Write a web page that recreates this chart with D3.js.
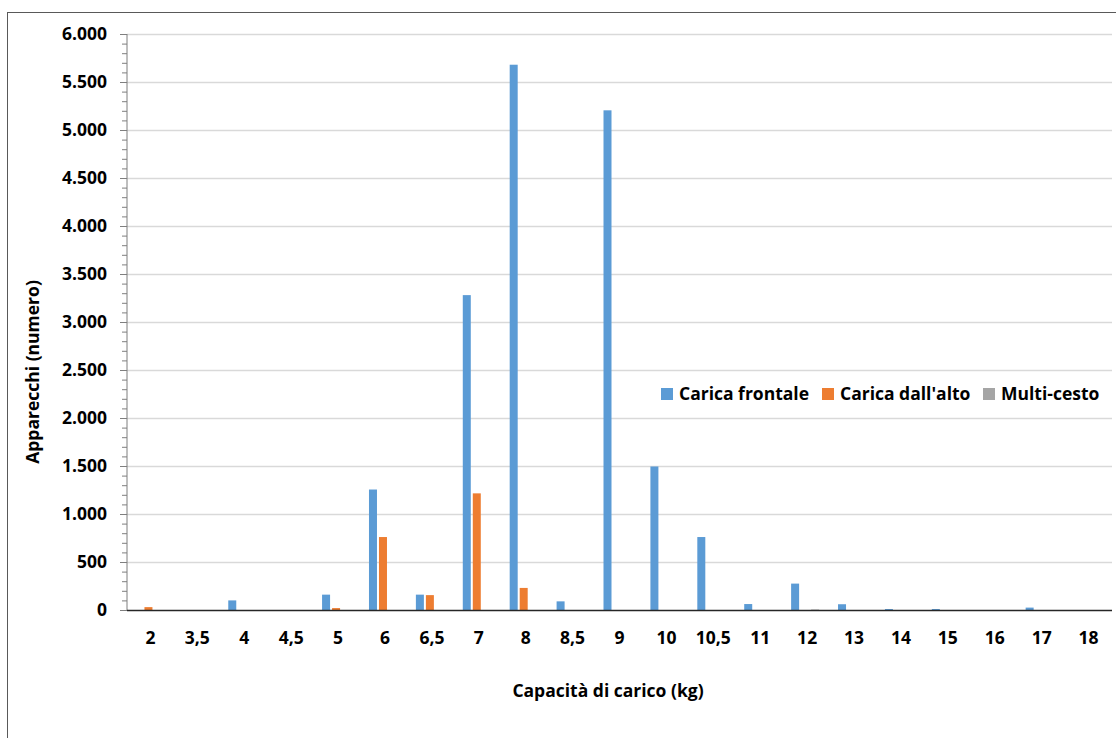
<!DOCTYPE html>
<html>
<head>
<meta charset="utf-8">
<script src="https://cdn.jsdelivr.net/npm/d3@7"></script>
<style>
  html, body { margin: 0; padding: 0; background: #fff; }
  svg { display: block; font-family: "Open Sans", "Noto Sans", sans-serif; font-weight: 700; }
</style>
</head>
<body>
<svg id="chart" width="1116" height="738"></svg>
<script>
// Capacità di carico (kg)
const categories = ["2", "3,5", "4", "4,5", "5", "6", "6,5", "7", "8", "8,5", "9", "10", "10,5", "11", "12", "13", "14", "15", "16", "17", "18"];

// Apparecchi per tipologia di carica
const caricaFrontale = [0, 0, 100, 0, 160, 1255, 160, 3280, 5680, 90, 5205, 1495, 760, 62, 275, 60, 10, 10, 0, 25, 0];
const caricaDallAlto = [30, 0, 0, 0, 20, 760, 155, 1215, 230, 0, 0, 0, 0, 0, 0, 0, 0, 0, 0, 0, 0];
const multiCesto     = [0, 0, 0, 0, 0, 0, 0, 0, 0, 0, 0, 0, 0, 0, 5, 0, 0, 0, 0, 0, 0];

const seriesNames = ["Carica frontale", "Carica dall'alto", "Multi-cesto"];
const seriesValues = [caricaFrontale, caricaDallAlto, multiCesto];
const seriesColors = ["#5B9BD5", "#ED7D31", "#A5A5A5"];

const yTicks = [0, 500, 1000, 1500, 2000, 2500, 3000, 3500, 4000, 4500, 5000, 5500, 6000];

const svg = d3.select("#chart");
const W = 1116, H = 738;
const plot = { left: 127, right: 1112, top: 34, bottom: 610 };
const FONT = "'Open Sans', 'Noto Sans', sans-serif";
const FS = 17.5;

// chart frame (continues past the right and bottom edges)
svg.append("rect")
  .attr("x", 7.5).attr("y", 12.5)
  .attr("width", W + 20).attr("height", H + 20)
  .attr("fill", "none").attr("stroke", "#595959").attr("stroke-width", 1);

const x = d3.scaleBand().domain(categories).range([plot.left, plot.right]).paddingInner(0).paddingOuter(0);
const groupWidth = 28;
const xs = d3.scaleBand().domain(seriesNames)
  .range([(x.bandwidth() - groupWidth) / 2 - 2, (x.bandwidth() + groupWidth) / 2 - 2])
  .paddingInner(0.2).paddingOuter(0);
const y = d3.scaleLinear().domain([0, 6000]).range([plot.bottom, plot.top]);

const fmt = v => d3.format(",")(v).replace(/,/g, ".");

// horizontal gridlines
svg.append("g")
  .selectAll("line")
  .data(yTicks.filter(t => t > 0))
  .join("line")
  .attr("x1", plot.left).attr("x2", plot.right)
  .attr("y1", d => Math.round(y(d)) + 0.5).attr("y2", d => Math.round(y(d)) + 0.5)
  .attr("stroke", "#D9D9D9").attr("stroke-width", 1.3);

// bars
const groups = svg.append("g")
  .selectAll("g")
  .data(categories)
  .join("g")
  .attr("transform", d => `translate(${x(d)},0)`);

groups.selectAll("rect")
  .data((c, i) => seriesNames.map((s, k) => ({ s, v: seriesValues[k][i], color: seriesColors[k] })))
  .join("rect")
  .attr("x", d => xs(d.s))
  .attr("width", xs.bandwidth())
  .attr("y", d => y(d.v))
  .attr("height", d => y(0) - y(d.v))
  .attr("fill", d => d.color);

// minor ticks on the value axis
const minorAxis = d3.axisLeft(y)
  .tickValues(d3.range(0, 6001, 100))
  .tickSize(5).tickFormat("");
const gMinor = svg.append("g").attr("transform", `translate(${plot.left},0)`).call(minorAxis);
gMinor.select(".domain").remove();
gMinor.selectAll("line").attr("stroke", "#7F7F7F");

// value axis
const yAxis = d3.axisLeft(y).tickValues(yTicks).tickSize(7).tickPadding(13).tickFormat(fmt);
const gy = svg.append("g").attr("transform", `translate(${plot.left},0)`).call(yAxis);
gy.select(".domain").attr("stroke", "#7F7F7F").attr("d", `M0,${plot.top}V${plot.bottom}`);
gy.selectAll("line").attr("stroke", "#7F7F7F");
gy.selectAll("text").attr("font-size", FS).attr("font-family", FONT)
  .attr("font-weight", 700).attr("fill", "#000");

// category axis
const xAxis = d3.axisBottom(x).tickSize(0).tickPadding(22);
const gx = svg.append("g").attr("transform", `translate(0,${plot.bottom})`).call(xAxis);
gx.select(".domain").attr("stroke", "#262626").attr("stroke-width", 1.3)
  .attr("d", `M${plot.left},0.5H${plot.right}`);
gx.selectAll("text").attr("font-size", FS).attr("font-family", FONT)
  .attr("font-weight", 700).attr("fill", "#000");

// axis titles
svg.append("text")
  .attr("transform", `translate(39,372) rotate(-90)`)
  .attr("text-anchor", "middle")
  .attr("font-size", FS).attr("font-family", FONT).attr("fill", "#000")
  .text("Apparecchi (numero)");

svg.append("text")
  .attr("x", 608).attr("y", 697)
  .attr("text-anchor", "middle")
  .attr("font-size", FS).attr("font-family", FONT).attr("fill", "#000")
  .text("Capacità di carico (kg)");

// legend
const legendX = [661, 822, 983];
const legend = svg.append("g")
  .selectAll("g")
  .data(seriesNames)
  .join("g")
  .attr("transform", (d, i) => `translate(${legendX[i]},388)`);
legend.append("rect").attr("width", 12).attr("height", 12)
  .attr("fill", (d, i) => seriesColors[i]);
legend.append("text").attr("x", 18).attr("y", 12)
  .attr("font-size", FS).attr("font-family", FONT).attr("fill", "#000")
  .text(d => d);
</script>
</body>
</html>
